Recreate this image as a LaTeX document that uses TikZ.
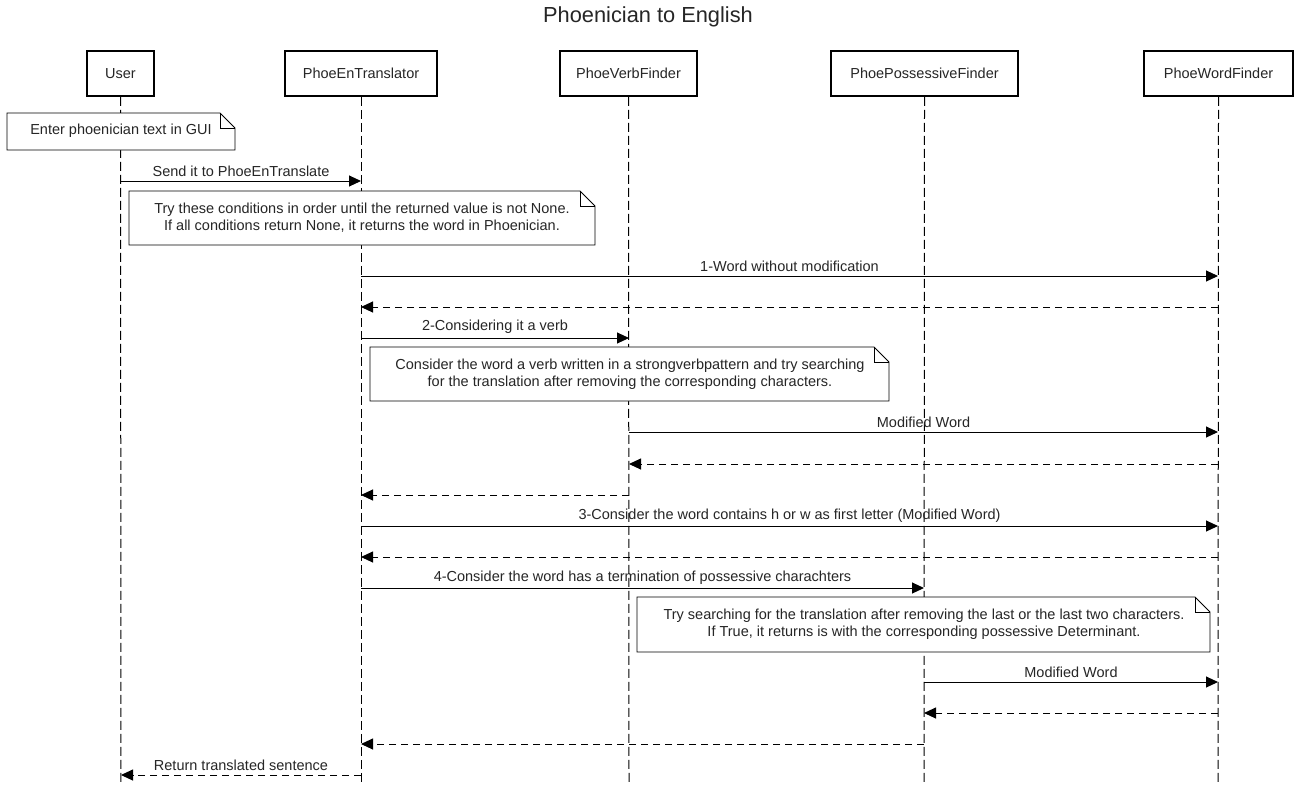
\documentclass[tikz,border=0pt]{standalone}
\usepackage{fontspec}
\setmainfont{Liberation Sans}
\usetikzlibrary{arrows.meta,shapes.misc}
\begin{document}
\begin{tikzpicture}[x=1pt,y=-1pt,
  every node/.style={font=\fontsize{14.5}{17}\selectfont, text=black!85},
  actor/.style={draw, line width=1.8pt, minimum height=45pt, inner sep=0pt, anchor=north},
  life/.style={line width=1pt, dash pattern=on 9pt off 4pt},
  msg/.style={line width=1pt, -{Triangle[length=12pt,width=11pt]}},
  ret/.style={msg, dash pattern=on 7pt off 5pt},
  lbl/.style={above=2.5pt, inner sep=1pt},
  notebox/.style={line width=0.9pt, fill=white},
  notetext/.style={align=center, inner sep=0pt}
]
\useasboundingbox (0,0) rectangle (1297,785);
\fill[white] (0,0) rectangle (1297,785);
\node[font=\fontsize{21.8}{24}\selectfont] (title) at (648,17) {Phoenician to English};

% actors
\node[actor, minimum width=67pt] (user) at (120.5,50) {User};
\node[actor, minimum width=152pt] (tr) at (361,50) {PhoeEnTranslator};
\node[actor, minimum width=137pt] (vf) at (628.5,50) {PhoeVerbFinder};
\node[actor, minimum width=187pt] (pf) at (924.5,50) {PhoePossessiveFinder};
\node[actor, minimum width=149pt] (wf) at (1218.5,50) {PhoeWordFinder};

% lifeline bottoms
\coordinate (ub) at (121,785);
\coordinate (tb) at (361,785);
\coordinate (vb) at (629,785);
\coordinate (pb) at (924,785);
\coordinate (wb) at (1218,785);
\draw[life] (user.south) -- (ub);
\draw[life] (tr.south) -- (tb);
\draw[life] (vf.south) -- (vb);
\draw[life] (pf.south) -- (pb);
\draw[life] (wf.south) -- (wb);

\def\U{121}\def\T{361}\def\V{629}\def\P{924}\def\W{1218}

% note 1
\draw[notebox] (7,113) -- (220,113) -- (235,128) -- (235,150) -- (7,150) -- cycle;
\draw[line width=0.9pt] (220,113) -- (220,128) -- (235,128);
\node[notetext] (n1) at (121,131) {Enter phoenician text in GUI};

% message 1
\coordinate (m1a) at (\U,181); \coordinate (m1b) at (\T,181);
\draw[msg] (m1a) -- node[lbl] {Send it to PhoeEnTranslate} (m1b);

% note 2
\draw[notebox] (129,191) -- (580,191) -- (595,206) -- (595,245) -- (129,245) -- cycle;
\draw[line width=0.9pt] (580,191) -- (580,206) -- (595,206);
\node[notetext] (n2) at (362,218) {Try these conditions in order until the returned value is not None.\\ If all conditions return None, it returns the word in Phoenician.};

% 1-Word without modification
\coordinate (m2a) at (\T,276); \coordinate (m2b) at (\W,276);
\draw[msg] (m2a) -- node[lbl] {1-Word without modification} (m2b);
\coordinate (r2a) at (\W,307); \coordinate (r2b) at (\T,307);
\draw[ret] (r2a) -- (r2b);

% 2-Considering it a verb
\coordinate (m3a) at (\T,338); \coordinate (m3b) at (\V,338);
\draw[msg] (m3a) -- node[lbl] {2-Considering it a verb} (m3b);

% note 3
\draw[notebox] (370,347) -- (874,347) -- (889,362) -- (889,401) -- (370,401) -- cycle;
\draw[line width=0.9pt] (874,347) -- (874,362) -- (889,362);
\node[notetext] (n3) at (630,374) {Consider the word a verb written in a strongverbpattern and try searching\\ for the translation after removing the corresponding characters.};

\coordinate (m4a) at (\V,432); \coordinate (m4b) at (\W,432);
\draw[msg] (m4a) -- node[lbl] {Modified Word} (m4b);
\coordinate (r4a) at (\W,464); \coordinate (r4b) at (\V,464);
\draw[ret] (r4a) -- (r4b);
\coordinate (r5a) at (\V,495); \coordinate (r5b) at (\T,495);
\draw[ret] (r5a) -- (r5b);

% 3-Consider
\coordinate (m6a) at (\T,526); \coordinate (m6b) at (\W,526);
\draw[msg] (m6a) -- node[lbl] {3-Consider the word contains h or w as first letter (Modified Word)} (m6b);
\coordinate (r6a) at (\W,557); \coordinate (r6b) at (\T,557);
\draw[ret] (r6a) -- (r6b);

% 4-Consider
\coordinate (m7a) at (\T,588); \coordinate (m7b) at (\P,588);
\draw[msg] (m7a) -- node[lbl] {4-Consider the word has a termination of possessive charachters} (m7b);

% note 4
\draw[notebox] (637,597) -- (1195,597) -- (1210,612) -- (1210,652) -- (637,652) -- cycle;
\draw[line width=0.9pt] (1195,597) -- (1195,612) -- (1210,612);
\node[notetext] (n4) at (924,624.5) {Try searching for the translation after removing the last or the last two characters.\\ If True, it returns is with the corresponding possessive Determinant.};

\coordinate (m8a) at (\P,682); \coordinate (m8b) at (\W,682);
\draw[msg] (m8a) -- node[lbl] {Modified Word} (m8b);
\coordinate (r8a) at (\W,713); \coordinate (r8b) at (\P,713);
\draw[ret] (r8a) -- (r8b);
\coordinate (r9a) at (\P,744); \coordinate (r9b) at (\T,744);
\draw[ret] (r9a) -- (r9b);
\coordinate (r10a) at (\T,775); \coordinate (r10b) at (\U,775);
\draw[ret] (r10a) -- node[lbl] {Return translated sentence} (r10b);
\end{tikzpicture}
\end{document}
